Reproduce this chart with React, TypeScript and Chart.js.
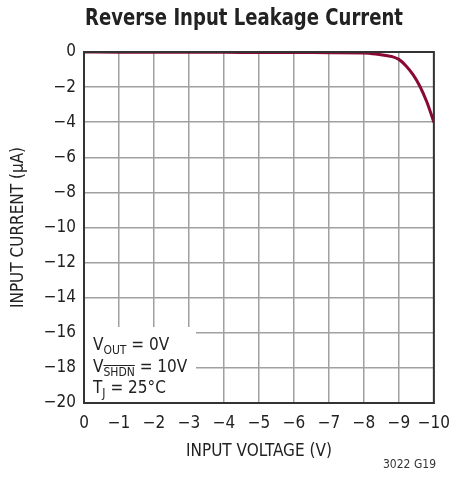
import React, { useEffect, useRef } from "react";
import { Chart, registerables } from "chart.js";

Chart.register(...registerables);

const FONT = '"Liberation Sans Narrow", "DejaVu Sans Condensed", "Roboto", sans-serif';

const titleText = "Reverse Input Leakage Current";
const xAxisTitle = "INPUT VOLTAGE (V)";
const yAxisTitle = "INPUT CURRENT (µA)";
const footerText = "3022 G19";

const inputVoltage = [0, -1, -2, -3, -4, -5, -6, -7, -8, -8.4, -8.8, -9, -9.2, -9.4, -9.6, -9.8, -10];
const inputCurrent = [0, -0.01, -0.01, -0.02, -0.02, -0.03, -0.03, -0.04, -0.05, -0.13, -0.26, -0.42, -0.78, -1.28, -1.95, -2.85, -4.0];

const fmt = (v: number) => (v === 0 ? "0" : "\u2212" + Math.abs(v));

const overlayPlugin = {
  id: "overlay",
  afterDraw(chart: any) {
    const ctx = chart.ctx as CanvasRenderingContext2D;
    const a = chart.chartArea;
    ctx.save();
    // Title (condensed horizontally to match width)
    ctx.fillStyle = "#222";
    ctx.font = `bold 23px ${FONT}`;
    ctx.textAlign = "center";
    ctx.textBaseline = "middle";
    const tw = ctx.measureText(titleText).width;
    const sx = Math.min(1, 318 / tw);
    ctx.save();
    ctx.translate(244, 19);
    ctx.scale(sx, 1);
    ctx.fillText(titleText, 0, 0);
    ctx.restore();

    // Annotation box
    ctx.fillStyle = "#fff";
    ctx.fillRect(a.left + 1, 327, 111, a.bottom - 327 - 1);
    ctx.fillStyle = "#222";
    ctx.textAlign = "left";
    ctx.textBaseline = "alphabetic";
    const big = `17px ${FONT}`;
    const small = `12px ${FONT}`;
    const x = 93;
    // line 1
    let y = 350;
    ctx.font = big; ctx.fillText("V", x, y);
    let w = ctx.measureText("V").width;
    ctx.font = small; ctx.fillText("OUT", x + w, y + 4);
    let w2 = ctx.measureText("OUT").width;
    ctx.font = big; ctx.fillText(" = 0V", x + w + w2, y);
    // line 2
    y = 372;
    ctx.font = big; ctx.fillText("V", x, y);
    w = ctx.measureText("V").width;
    ctx.font = small; ctx.fillText("SHDN", x + w, y + 4);
    w2 = ctx.measureText("SHDN").width;
    ctx.strokeStyle = "#222"; ctx.lineWidth = 1;
    ctx.beginPath(); ctx.moveTo(x + w, y - 6.5); ctx.lineTo(x + w + w2, y - 6.5); ctx.stroke();
    ctx.font = big; ctx.fillText(" = 10V", x + w + w2, y);
    // line 3
    y = 393;
    ctx.font = big; ctx.fillText("T", x, y);
    w = ctx.measureText("T").width;
    ctx.font = small; ctx.fillText("J", x + w, y + 4);
    w2 = ctx.measureText("J").width;
    ctx.font = big; ctx.fillText(" = 25°C", x + w + w2, y);

    // Border
    ctx.strokeStyle = "#333";
    ctx.lineWidth = 2;
    ctx.strokeRect(a.left, a.top, a.right - a.left, a.bottom - a.top);

    // Footer
    ctx.font = `12px ${FONT}`;
    ctx.fillStyle = "#333";
    ctx.textAlign = "right";
    ctx.textBaseline = "middle";
    ctx.fillText(footerText, 436, 465);
    ctx.restore();
  },
};

export default function App() {
  const ref = useRef<HTMLCanvasElement>(null);
  useEffect(() => {
    const canvas = ref.current!;
    const chart = new Chart(canvas, {
      type: "line",
      data: {
        datasets: [
          {
            data: inputVoltage.map((v, i) => ({ x: v, y: inputCurrent[i] })),
            borderColor: "#8a0a33",
            borderWidth: 3,
            pointRadius: 0,
            cubicInterpolationMode: "monotone",
            fill: false,
          },
        ],
      },
      options: {
        responsive: false,
        animation: false,
        layout: { padding: { left: 0, right: 24, top: 52, bottom: 0 } },
        plugins: { legend: { display: false }, tooltip: { enabled: false }, title: { display: false } },
        scales: {
          x: {
            type: "linear",
            reverse: true,
            min: -10,
            max: 0,
            afterFit: (s: any) => { s.height = 84; },
            ticks: {
              stepSize: 1,
              autoSkip: false,
              maxRotation: 0,
              padding: 10,
              color: "#222",
              font: { family: FONT, size: 17 },
              callback: (v: any) => fmt(Number(v)),
            },
            grid: { color: "#a0a0a0", lineWidth: 1.5, drawTicks: false },
            border: { display: true, color: "#333", width: 2 },
            title: {
              display: true,
              text: xAxisTitle,
              color: "#222",
              font: { family: FONT, size: 17 },
              padding: { top: 0, bottom: 25 },
            },
          },
          y: {
            type: "linear",
            min: -20,
            max: 0,
            afterFit: (s: any) => { s.width = 84; },
            ticks: {
              stepSize: 2,
              autoSkip: false,
              padding: 8,
              color: "#222",
              font: { family: FONT, size: 17 },
              callback: (v: any) => fmt(Number(v)),
            },
            grid: { color: "#a0a0a0", lineWidth: 1.5, drawTicks: false },
            border: { display: true, color: "#333", width: 2 },
            title: {
              display: true,
              text: yAxisTitle,
              color: "#222",
              font: { family: FONT, size: 17 },
              padding: { top: 8, bottom: 0 },
            },
          },
        },
      },
      plugins: [overlayPlugin],
    } as any);
    return () => chart.destroy();
  }, []);
  return (
    <div style={{ position: "fixed", left: 0, top: 0, width: 460, height: 487, background: "#fff" }}>
      <canvas ref={ref} width={460} height={487} style={{ width: 460, height: 487, display: "block" }} />
    </div>
  );
}
